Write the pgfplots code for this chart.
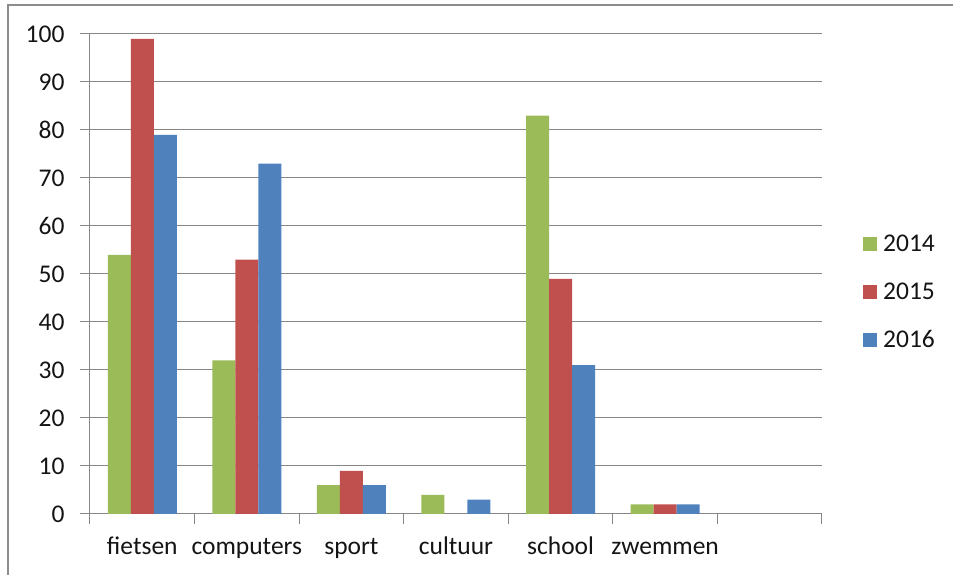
\documentclass[border=0pt]{standalone}
\usepackage{fontspec}
\setmainfont{Carlito}
\usepackage{pgfplots}
\pgfplotsset{compat=1.18}
\definecolor{c14}{HTML}{9BBB59}
\definecolor{c15}{HTML}{C0504D}
\definecolor{c16}{HTML}{4F81BD}
\definecolor{gridgray}{HTML}{868686}
\definecolor{framegray}{HTML}{8C8C8C}
\begin{document}
\begin{tikzpicture}
\useasboundingbox (-90pt,-61pt) rectangle (863pt,514pt);
\draw[color=framegray, line width=1.6pt] (-82pt,-62pt) -- (-82pt,509pt) -- (864pt,509pt);
\begin{axis}[
  scale only axis, width=732pt, height=480pt,
  at={(0pt,0pt)}, anchor=south west,
  xmin=-0.5, xmax=6.5, ymin=0, ymax=100,
  ybar=0pt, bar width=23pt,
  axis x line*=bottom, axis y line*=left,
  axis line style={draw=gridgray, line width=1pt, -},
  ytick={0,10,...,100},
  ymajorgrids, grid style={draw=gridgray, line width=1pt},
  xtick={0,...,5},
  xticklabels={fietsen,computers,sport,cultuur,school,zwemmen},
  minor xtick={-0.5,0.5,...,6.5},
  major x tick style={draw=none},
  minor x tick style={draw=gridgray, line width=1pt},
  major y tick style={draw=gridgray, line width=1pt},
  tick align=outside,
  major tick length=10pt, minor tick length=10pt,
  /pgf/number format/assume math mode=true,
  tick label style={font=\fontsize{25.5}{30}\selectfont, text=black!92},
  xticklabel style={yshift=-20pt, text height=0.72em, text depth=0.22em},
  yticklabel style={xshift=-12pt},
  legend style={at={(1,0.4625)}, anchor=west, xshift=38pt, draw=none, fill=none,
    font=\fontsize{25.5}{30}\selectfont, text=black!92, row sep=26pt,
    /tikz/every odd column/.append style={column sep=4pt}},
  legend cell align=left,
  legend image code/.code={\fill[#1] (0pt,-7pt) rectangle (14pt,7pt);},
]
\addplot[draw=none, fill=c14] coordinates {(0,54) (1,32) (2,6) (3,4) (4,83) (5,2)};
\addplot[draw=none, fill=c15] coordinates {(0,99) (1,53) (2,9) (4,49) (5,2)};
\addplot[draw=none, fill=c16] coordinates {(0,79) (1,73) (2,6) (3,3) (4,31) (5,2)};
\legend{2014,2015,2016}
\end{axis}
\end{tikzpicture}
\end{document}
